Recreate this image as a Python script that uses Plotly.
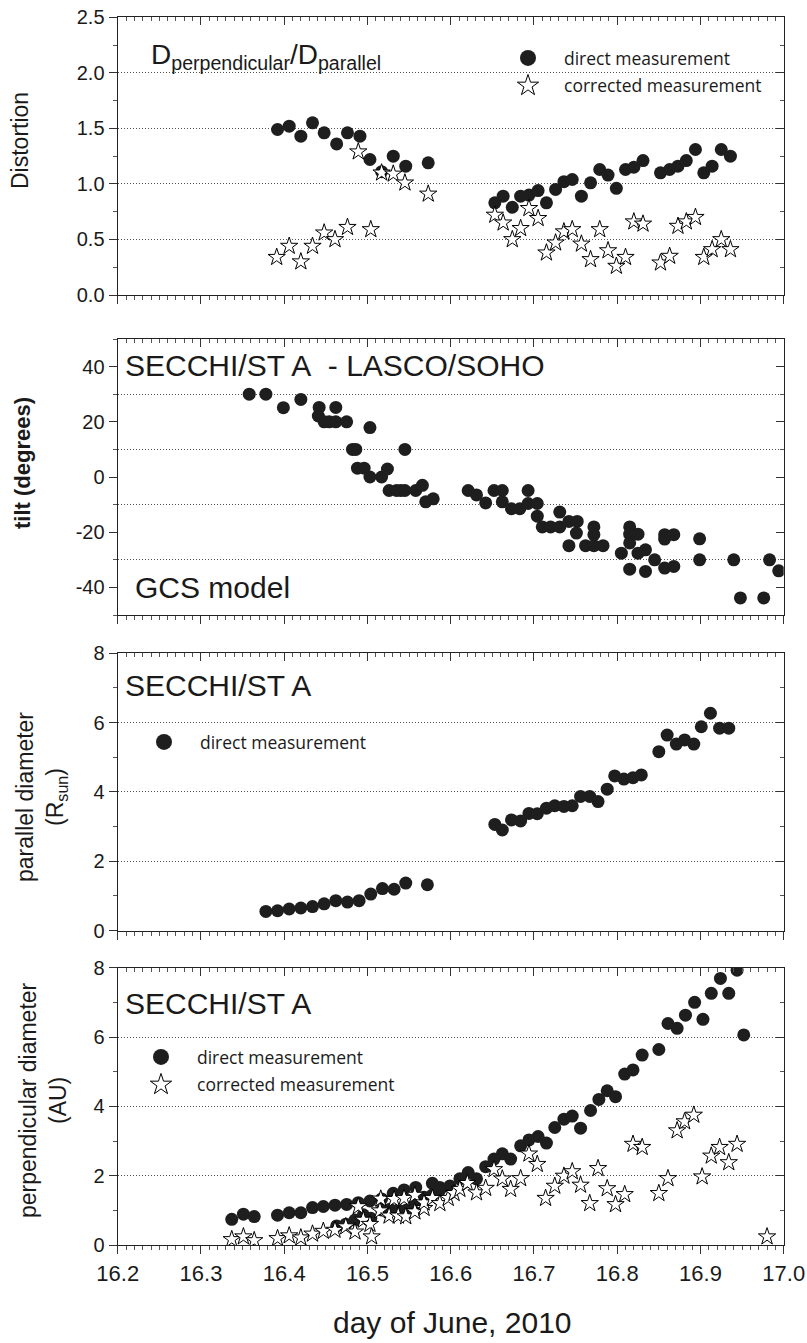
import plotly.graph_objects as go

W, H = 807, 1343

# ---------------- data ----------------
# Panel 1: distortion D_perp / D_par
dist_direct_x = [16.392, 16.406, 16.420, 16.434, 16.448, 16.463, 16.476, 16.491, 16.503, 16.517, 16.531, 16.546, 16.573,
                 16.653, 16.663, 16.674, 16.684, 16.694, 16.705, 16.715, 16.726, 16.736, 16.746, 16.757, 16.768, 16.779,
                 16.789, 16.799, 16.810, 16.820, 16.831, 16.852, 16.863, 16.873, 16.883, 16.894, 16.904, 16.914, 16.925, 16.936]
dist_direct_y = [1.49, 1.52, 1.43, 1.55, 1.46, 1.36, 1.46, 1.43, 1.22, 1.11, 1.25, 1.16, 1.19,
                 0.83, 0.89, 0.79, 0.89, 0.90, 0.94, 0.83, 0.95, 1.02, 1.04, 0.89, 1.01, 1.13,
                 1.08, 0.96, 1.13, 1.15, 1.21, 1.10, 1.13, 1.16, 1.21, 1.31, 1.10, 1.16, 1.31, 1.25]
dist_corr_x = [16.391, 16.406, 16.420, 16.434, 16.448, 16.461, 16.476, 16.489, 16.504, 16.517, 16.531, 16.545, 16.573,
               16.653, 16.663, 16.674, 16.684, 16.694, 16.705, 16.715, 16.726, 16.736, 16.746, 16.757, 16.768, 16.779,
               16.789, 16.799, 16.810, 16.820, 16.831, 16.852, 16.863, 16.873, 16.883, 16.894, 16.904, 16.914, 16.925, 16.936]
dist_corr_y = [0.34, 0.44, 0.30, 0.44, 0.56, 0.50, 0.61, 1.29, 0.59, 1.10, 1.09, 1.01, 0.91,
               0.72, 0.65, 0.50, 0.60, 0.78, 0.69, 0.38, 0.47, 0.57, 0.59, 0.46, 0.32, 0.59,
               0.40, 0.26, 0.34, 0.66, 0.64, 0.29, 0.35, 0.62, 0.66, 0.70, 0.34, 0.41, 0.50, 0.41]

# Panel 2: tilt (degrees), GCS model
tilt_x = [16.358, 16.378, 16.399, 16.420, 16.441, 16.442, 16.448, 16.454, 16.462, 16.462, 16.475, 16.482, 16.486,
          16.488, 16.496, 16.503, 16.503, 16.517, 16.524, 16.526, 16.535, 16.540, 16.545, 16.545, 16.558, 16.566,
          16.570, 16.579,
          16.621, 16.631, 16.642, 16.652, 16.662, 16.662, 16.673, 16.683, 16.693, 16.693, 16.704, 16.704,
          16.710, 16.720, 16.731, 16.731, 16.742, 16.742, 16.752, 16.751, 16.762, 16.772, 16.772, 16.772, 16.783,
          16.805, 16.815, 16.815, 16.815, 16.815, 16.825, 16.825, 16.834, 16.834, 16.845, 16.857, 16.857, 16.857,
          16.868, 16.868, 16.899, 16.899, 16.940, 16.948, 16.976, 16.983, 16.994]
tilt_y = [30.0, 30.0, 25.1, 28.1, 22.1, 25.2, 20.0, 20.0, 25.2, 20.0, 20.0, 10.0, 10.0,
          3.2, 3.2, 17.9, 0.0, 0.0, 2.9, -4.9, -4.9, -4.9, 10.0, -4.9, -4.9, -3.0,
          -9.0, -7.9,
          -4.9, -6.5, -9.4, -4.9, -4.9, -9.0, -11.5, -11.5, -4.9, -9.6, -9.6, -14.2,
          -18.1, -18.1, -12.7, -18.1, -16.1, -24.9, -16.1, -20.3, -24.9, -18.1, -20.9, -24.9, -24.9,
          -27.6, -18.1, -20.7, -23.9, -33.4, -20.7, -27.6, -26.4, -34.2, -30.0, -20.9, -22.5, -33.0,
          -20.9, -32.4, -22.4, -30.0, -30.0, -43.8, -43.8, -30.0, -34.0]

# Panel 3: parallel diameter (R_sun)
par_x = [16.378, 16.392, 16.406, 16.420, 16.434, 16.448, 16.462, 16.476, 16.490, 16.504, 16.518, 16.532, 16.546, 16.572,
         16.653, 16.662, 16.673, 16.684, 16.694, 16.704, 16.715, 16.725, 16.736, 16.746, 16.756, 16.767, 16.777,
         16.788, 16.797, 16.808, 16.819, 16.829, 16.850, 16.860, 16.871, 16.881, 16.892, 16.901, 16.912, 16.923, 16.934]
par_y = [0.55, 0.57, 0.62, 0.65, 0.69, 0.77, 0.86, 0.82, 0.86, 1.05, 1.21, 1.19, 1.37, 1.32,
         3.06, 2.90, 3.19, 3.16, 3.38, 3.37, 3.53, 3.60, 3.58, 3.60, 3.87, 3.87, 3.72,
         4.08, 4.46, 4.37, 4.41, 4.49, 5.16, 5.64, 5.38, 5.50, 5.38, 5.88, 6.27, 5.84, 5.84]

# Panel 4: perpendicular diameter (AU)
perp_direct_x = [16.337, 16.351, 16.364, 16.392, 16.406, 16.420, 16.434, 16.447, 16.461, 16.475, 16.489, 16.503,
                 16.517, 16.531, 16.544, 16.558, 16.578, 16.587, 16.599, 16.611, 16.621, 16.631, 16.642, 16.652,
                 16.662, 16.672, 16.684, 16.694, 16.705, 16.715, 16.725, 16.736, 16.746, 16.756, 16.768, 16.778,
                 16.788, 16.798, 16.809, 16.819, 16.830, 16.850, 16.861, 16.872, 16.882, 16.893, 16.903, 16.913,
                 16.924, 16.934, 16.944, 16.952,
                 16.463, 16.474, 16.485, 16.495, 16.504, 16.517, 16.527, 16.537, 16.547, 16.557, 16.568, 16.578, 16.587]
perp_direct_y = [0.74, 0.89, 0.82, 0.86, 0.93, 0.93, 1.08, 1.11, 1.15, 1.17, 1.22, 1.27,
                 1.33, 1.49, 1.59, 1.66, 1.78, 1.66, 1.70, 1.91, 2.09, 1.91, 2.26, 2.48,
                 2.63, 2.48, 2.86, 3.03, 3.13, 2.94, 3.39, 3.63, 3.72, 3.37, 3.88, 4.20,
                 4.45, 4.28, 4.93, 5.05, 5.48, 5.64, 6.39, 6.25, 6.63, 7.00, 6.51, 7.26,
                 7.69, 7.26, 7.93, 6.06,
                 0.55, 0.60, 0.72, 0.87, 0.77, 1.01, 1.03, 1.01, 1.01, 1.18, 1.38, 1.44, 1.59]
perp_corr_x = [16.337, 16.351, 16.364, 16.392, 16.406, 16.420, 16.434, 16.447, 16.461, 16.474, 16.485, 16.489,
               16.495, 16.503, 16.505, 16.515, 16.516, 16.526, 16.532, 16.537, 16.544, 16.546, 16.557, 16.557,
               16.568, 16.568, 16.578, 16.587, 16.597, 16.604, 16.611, 16.620, 16.631, 16.642, 16.652, 16.662,
               16.672, 16.684, 16.694, 16.704, 16.714, 16.725, 16.736, 16.746, 16.756, 16.767, 16.777, 16.788,
               16.798, 16.809, 16.819, 16.830, 16.850, 16.861, 16.872, 16.881, 16.892, 16.902, 16.913, 16.923,
               16.934, 16.944, 16.980]
perp_corr_y = [0.16, 0.24, 0.13, 0.19, 0.27, 0.21, 0.32, 0.40, 0.43, 0.53, 0.38, 1.11,
               0.72, 0.60, 0.24, 0.99, 1.33, 0.84, 1.32, 0.84, 1.35, 0.82, 1.44, 0.96,
               1.06, 1.22, 1.35, 1.20, 1.35, 1.49, 1.61, 1.78, 1.51, 1.64, 2.18, 1.91,
               1.61, 1.92, 2.63, 2.33, 1.35, 1.70, 1.99, 2.12, 1.73, 1.20, 2.21, 1.63,
               1.17, 1.46, 2.91, 2.82, 1.49, 1.92, 3.30, 3.56, 3.75, 1.97, 2.57, 2.82,
               2.38, 2.91, 0.24]

x_range = [16.2, 17.0]
legend_labels = ["direct measurement", "corrected measurement"]
tilt_grid_vals = [-30, -10, 10, 30]

# ---------------- layout helpers ----------------
def px(x):
    return x / W

def py(y):
    return 1 - y / H

X0, X1 = 117.7, 783.7
panels = [(17.3, 295.0), (339.0, 615.0), (653.3, 930.5), (967.7, 1245.0)]
FONT = "Liberation Sans, Arial, sans-serif"
LFONT = "Open Sans, sans-serif"
INK = "#1a1a1a"
GRIDC = "#555"
GDASH = "1px,2px"

circle_style = dict(symbol="circle", size=13, color="#1e1e1e", line=dict(width=0))
star_style = dict(symbol="star", size=13, color="white", line=dict(width=1, color="black"))

fig = go.Figure()

# panel 1
fig.add_trace(go.Scatter(x=dist_direct_x, y=dist_direct_y, mode="markers", marker=circle_style,
                         xaxis="x", yaxis="y", showlegend=False))
fig.add_trace(go.Scatter(x=dist_corr_x, y=dist_corr_y, mode="markers", marker=star_style,
                         xaxis="x", yaxis="y", showlegend=False))
# panel 2
fig.add_trace(go.Scatter(x=tilt_x, y=tilt_y, mode="markers", marker=circle_style,
                         xaxis="x2", yaxis="y2", showlegend=False))
# panel 3
fig.add_trace(go.Scatter(x=par_x, y=par_y, mode="markers", marker=circle_style,
                         xaxis="x3", yaxis="y3", showlegend=False))
# panel 4
fig.add_trace(go.Scatter(x=perp_direct_x, y=perp_direct_y, mode="markers", marker=circle_style,
                         xaxis="x4", yaxis="y4", showlegend=False))
fig.add_trace(go.Scatter(x=perp_corr_x, y=perp_corr_y, mode="markers", marker=star_style,
                         xaxis="x4", yaxis="y4", showlegend=False))

# legend entries
leg_circle = dict(symbol="circle", size=20, color="#1e1e1e")
leg_star = dict(symbol="star", size=20, color="white", line=dict(width=1, color="black"))
for legname, items, axes in [("legend", [0, 1], ("x", "y")), ("legend2", [0], ("x3", "y3")),
                             ("legend3", [0, 1], ("x4", "y4"))]:
    for k in items:
        fig.add_trace(go.Scatter(x=[None], y=[None], mode="markers",
                                 marker=leg_circle if k == 0 else leg_star,
                                 name=legend_labels[k], legend=legname, legendgroup=f"{legname}{k}",
                                 xaxis=axes[0], yaxis=axes[1], showlegend=True))

# dummy traces to register mirror (top/right) axes and the tilt grid axis
for i in range(1, 5):
    fig.add_trace(go.Scatter(x=[None], y=[None], mode="markers", xaxis=f"x{i+4}", yaxis=f"y{i+4}",
                             showlegend=False, hoverinfo="skip"))
fig.add_trace(go.Scatter(x=[None], y=[None], mode="markers", xaxis="x2", yaxis="y9",
                         showlegend=False, hoverinfo="skip"))

yspecs = [
    dict(range=[0, 2.5], tickvals=[0, 0.5, 1.0, 1.5, 2.0, 2.5], ticktext=["0.0", "0.5", "1.0", "1.5", "2.0", "2.5"],
         minor=0.25, grid=True),
    dict(range=[-50, 50], tickvals=[-40, -20, 0, 20, 40], ticktext=["-40", "-20", "0", "20", "40"],
         minor=10, grid=False),
    dict(range=[0, 8], tickvals=[0, 2, 4, 6, 8], ticktext=["0", "2", "4", "6", "8"], minor=1, grid=True),
    dict(range=[0, 8], tickvals=[0, 2, 4, 6, 8], ticktext=["0", "2", "4", "6", "8"], minor=1, grid=True),
]

layout = dict(
    width=W, height=H, margin=dict(l=0, r=0, t=0, b=0, autoexpand=False),
    paper_bgcolor="white", plot_bgcolor="white",
    font=dict(family=FONT, color=INK),
)

xdom = [px(X0), px(X1)]
for i in range(1, 5):
    top, bot = panels[i - 1]
    ydom = [py(bot), py(top)]
    s = yspecs[i - 1]
    common_x = dict(domain=xdom, range=x_range, tick0=16.2, dtick=0.1, zeroline=False, showgrid=False,
                    showline=True, linecolor="#222", linewidth=1.3, tickcolor="#333", tickwidth=1)
    layout[f"xaxis{i}" if i > 1 else "xaxis"] = dict(
        common_x, anchor=f"y{i}" if i > 1 else "y", ticks="outside", ticklen=8,
        minor=dict(dtick=0.01, ticks="outside", ticklen=4, tickcolor="#555", showgrid=False),
        showticklabels=(i == 4), tickformat=".1f",
        tickfont=dict(size=22, family=FONT, color=INK))
    layout[f"xaxis{i+4}"] = dict(
        common_x, overlaying="x" if i == 1 else f"x{i}", anchor="y" if i == 1 else f"y{i}", side="top",
        ticks="inside", ticklen=8, showticklabels=False,
        minor=dict(dtick=0.01, ticks="inside", ticklen=4, tickcolor="#555", showgrid=False))
    common_y = dict(domain=ydom, range=s["range"], tickmode="array", tickvals=s["tickvals"], zeroline=False,
                    showline=True, linecolor="#222", linewidth=1.3, tickcolor="#333", tickwidth=1)
    layout[f"yaxis{i}" if i > 1 else "yaxis"] = dict(
        common_y, ticktext=s["ticktext"], anchor="x" if i == 1 else f"x{i}", ticks="outside", ticklen=8,
        showgrid=s["grid"], gridcolor=GRIDC, griddash=GDASH, gridwidth=1,
        minor=dict(dtick=s["minor"], ticks="outside", ticklen=4, tickcolor="#555", showgrid=False),
        tickfont=dict(size=20, family=FONT, color=INK))
    layout[f"yaxis{i+4}"] = dict(
        common_y, overlaying="y" if i == 1 else f"y{i}", anchor="x" if i == 1 else f"x{i}", side="right",
        ticks="inside", ticklen=8, showticklabels=False, showgrid=False,
        minor=dict(dtick=s["minor"], ticks="inside", ticklen=4, tickcolor="#555", showgrid=False))

# grid-only axis for the tilt panel (dotted lines at odd tens)
layout["yaxis9"] = dict(domain=[py(panels[1][1]), py(panels[1][0])], range=[-50, 50], overlaying="y2",
                        anchor="x2", side="left", tickmode="array", tickvals=tilt_grid_vals, ticks="",
                        showticklabels=False, showline=False, zeroline=False, showgrid=True,
                        gridcolor=GRIDC, griddash=GDASH, gridwidth=1)

leg_common = dict(bgcolor="rgba(0,0,0,0)", borderwidth=0, font=dict(family=LFONT, size=17.5, color=INK),
                  itemwidth=62, xanchor="left", yanchor="top", tracegroupgap=2, itemsizing="trace")
layout["legend"] = dict(leg_common, x=px(492), y=py(40))
layout["legend2"] = dict(leg_common, x=px(128), y=py(724))
layout["legend3"] = dict(leg_common, x=px(125), y=py(1039))

fig.update_layout(**layout)

annotations = [
    dict(text="D<sub>perpendicular</sub>/D<sub>parallel</sub>", x=px(149), y=py(57), xanchor="left",
         yanchor="middle", font=dict(size=28, family=FONT, color=INK)),
    dict(text="SECCHI/ST A\u00a0\u00a0- LASCO/SOHO", x=px(123), y=py(365), xanchor="left", yanchor="middle",
         font=dict(size=30, family=FONT, color=INK)),
    dict(text="GCS model", x=px(133), y=py(587), xanchor="left", yanchor="middle",
         font=dict(size=30, family=FONT, color=INK)),
    dict(text="SECCHI/ST A", x=px(123), y=py(685), xanchor="left", yanchor="middle",
         font=dict(size=30, family=FONT, color=INK)),
    dict(text="SECCHI/ST A", x=px(123), y=py(1003), xanchor="left", yanchor="middle",
         font=dict(size=30, family=FONT, color=INK)),
    dict(text="Distortion", x=px(20), y=py(141), textangle=-90, xanchor="center", yanchor="middle",
         font=dict(size=23, family=FONT, color=INK)),
    dict(text="<b>tilt (degrees)</b>", x=px(22), y=py(463), textangle=-90, xanchor="center", yanchor="middle",
         font=dict(size=22, family=FONT, color=INK)),
    dict(text="parallel diameter<br>(R<sub>sun</sub>)", x=px(41), y=py(797), textangle=-90, xanchor="center",
         yanchor="middle", font=dict(size=23, family=FONT, color=INK)),
    dict(text="perpendicular diameter<br>(AU)", x=px(43), y=py(1100), textangle=-90, xanchor="center",
         yanchor="middle", font=dict(size=23, family=FONT, color=INK)),
    dict(text="day of June, 2010", x=px(452), y=py(1322), xanchor="center", yanchor="middle",
         font=dict(size=30, family=FONT, color=INK)),
]
for a in annotations:
    a.update(xref="paper", yref="paper", showarrow=False)
fig.update_layout(annotations=annotations)

fig.write_html("out.html")
